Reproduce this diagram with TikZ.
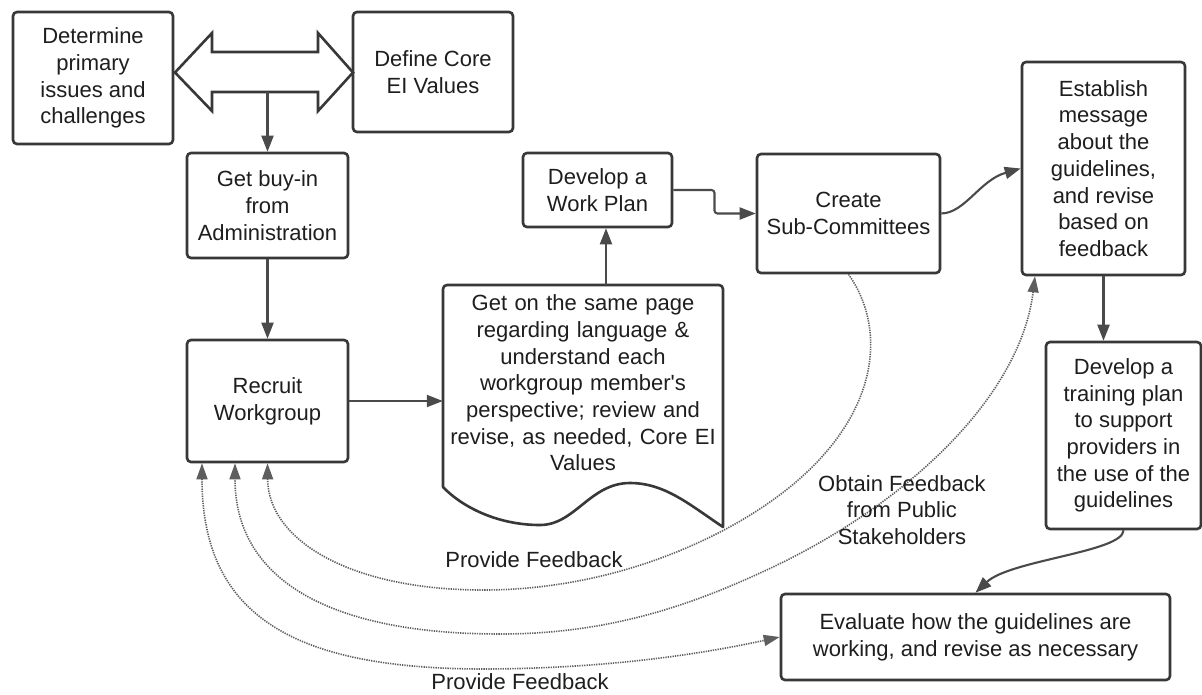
\documentclass[tikz,border=0pt]{standalone}
\usepackage{fontspec}
\setmainfont{Liberation Sans}
\usetikzlibrary{arrows.meta,calc}
\definecolor{boxc}{HTML}{383838}
\definecolor{arrc}{HTML}{4A4A4A}
\definecolor{dotc}{HTML}{5E5E5E}
\definecolor{txtc}{HTML}{1E1E1E}
\newcommand{\fsz}{\fontsize{22}{26.7}\selectfont}
\tikzset{fbtip/.tip={Triangle[length=16pt,width=11pt]}}
\begin{document}
\begin{tikzpicture}[x=1pt,y=-1pt,
 box/.style={draw=boxc, line width=2.6pt, rounded corners=4pt, fill=white, align=center, font=\fsz, text=txtc, inner sep=0pt},
 lbl/.style={align=center, font=\fsz, text=txtc, inner sep=0pt},
 arr/.style={draw=arrc, line width=2.1pt, -{Triangle[length=16pt,width=12pt]}},
 fb/.style={draw=dotc, line width=1.6pt, dash pattern=on 1.3pt off 1.1pt}
]
\fill[white] (0,0) rectangle (1202,694);
\useasboundingbox (0,0) rectangle (1202,694);

% boxes
\node[box, minimum width=160pt, minimum height=132pt] (A) at (93,78) {Determine\\primary\\issues and\\challenges};
\node[box, minimum width=160pt, minimum height=120pt] (B) at (433,72) {Define Core\\EI Values};
\node[box, minimum width=161pt, minimum height=105pt] (C) at (267.5,205.5) {Get buy-in\\from\\Administration};
\node[box, minimum width=161pt, minimum height=122pt] (D) at (267.5,401) {Recruit\\Workgroup};
\node[box, minimum width=149pt, minimum height=74pt] (WP) at (597.5,190) {Develop a\\Work Plan};
\node[box, minimum width=183pt, minimum height=119pt] (Cr) at (848.5,213.5) {Create\\Sub-Committees};
\node[box, minimum width=163pt, minimum height=213pt] (Es) at (1103.5,168.5) {Establish\\message\\about the\\guidelines,\\and revise\\based on\\feedback};
\node[box, minimum width=155pt, minimum height=187pt] (Tr) at (1123.5,435.5) {Develop a\\training plan\\to support\\providers in\\the use of the\\guidelines};
\node[box, minimum width=389pt, minimum height=86pt] (Ev) at (975.5,637) {Evaluate how the guidelines are\\working, and revise as necessary};

% document shape
\draw[draw=boxc, line width=2.6pt, fill=white, line join=round]
  (443,487) [rounded corners=4pt] -- (443,285) -- (723,285) [sharp corners] -- (723,527)
  .. controls (690,505) and (665,483) .. (630,483)
  .. controls (590,483) and (575,525) .. (540,525)
  .. controls (495,525) and (460,505) .. (443,487) -- cycle;
\node[lbl, text width=280pt] (E) at (583,383) {Get on the same page\\regarding language \&\\understand each\\workgroup member\textquotesingle s\\perspective; review and\\revise, as needed, Core EI\\Values};

% double block arrow
\draw[draw=boxc, line width=2.6pt, fill=white, line join=miter]
  (175,72.5) -- (212,33) -- (212,52) -- (318,52) -- (318,33) -- (353,72.5)
  -- (318,111) -- (318,92) -- (212,92) -- (212,111) -- cycle;
\coordinate (shaft) at (267.5,92);

% solid connectors
\draw[arr] (shaft) -- (C.north);
\draw[arr] (C.south) -- (D.north);
\draw[arr] (D.east) -- (D.east -| E.west);
\coordinate (Etop) at (606,285);
\draw[arr] (Etop) -- (Etop |- WP.south);
\draw[arr, rounded corners=3pt] (WP.east) -| ($(WP.east)!0.5!(Cr.west)$) |- (Cr.west);
\draw[arr] (Cr.east) .. controls (965,213) and (980,180) .. (Es.west);
\draw[arr] (Es.south) -- (Es.south |- Tr.north);
\draw[arr] (Tr.south) .. controls (1123,552) and (1010,560) .. (Ev.north);

% dotted feedback connectors
\draw[fb, -{fbtip}] (Cr.south) .. controls (895,340) and (875,450) .. (724,530)
  .. controls (644,572) and (560,590) .. (483,590)
  .. controls (350,590) and (268,540) .. (D.south);
\draw[fb, {fbtip}-{fbtip}] ([xshift=-68.5pt]Es.south) .. controls (1020,400) and (900,510) .. (760,573)
  .. controls (680,610) and (600,634) .. (500,634)
  .. controls (330,634) and (235,580) .. ([xshift=-32.5pt]D.south);
\draw[fb, {fbtip}-{fbtip}] ([xshift=-65.5pt]D.south) .. controls (202,620) and (300,668) .. (480,669)
  .. controls (620,669) and (720,650) .. (Ev.west);

% labels
\node[lbl] (L1) at (534,560) {Provide Feedback};
\node[lbl] (L2) at (902,510) {Obtain Feedback\\from Public\\Stakeholders};
\node[lbl] (L3) at (520,682) {Provide Feedback};
\end{tikzpicture}
\end{document}
